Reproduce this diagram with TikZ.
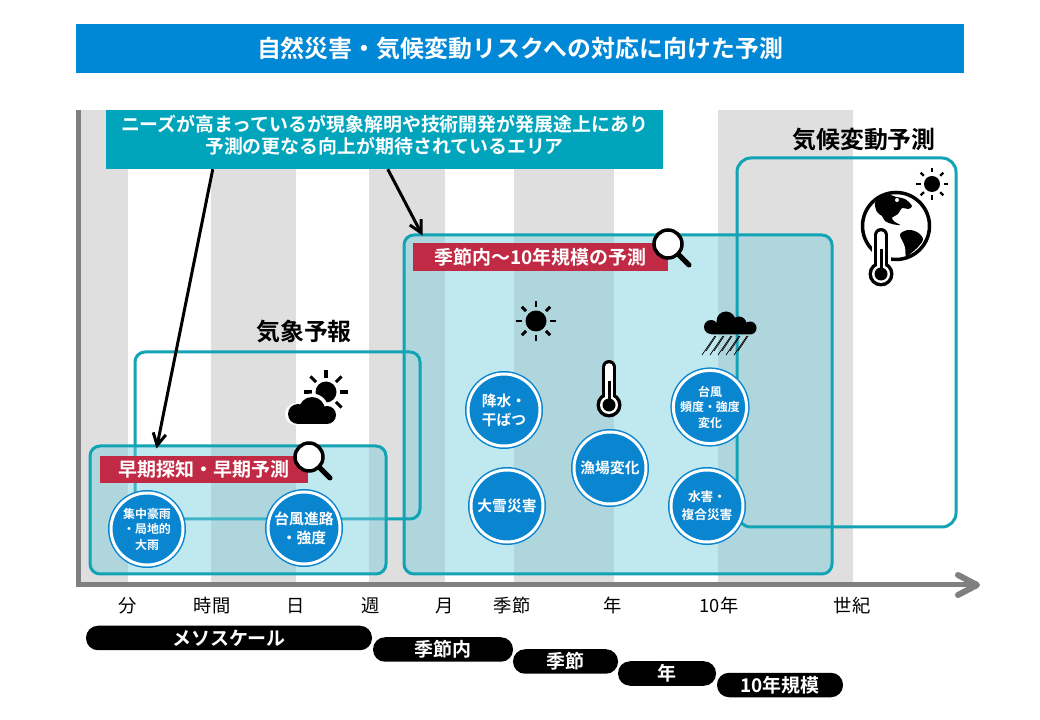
\documentclass[tikz,border=0pt]{standalone}
\usepackage{fontspec}
\setmainfont{Noto Sans CJK JP}[BoldFont={Noto Sans CJK JP Bold}]
\usetikzlibrary{arrows.meta}
\newcommand{\pu}{0.025cm}
\definecolor{barblue}{HTML}{0087D6}
\definecolor{roundblue}{HTML}{0A85D0}
\definecolor{tealline}{HTML}{12A3B4}
\definecolor{tealnote}{HTML}{00A5BC}
\definecolor{tealfill}{RGB}{117,204,220}
\definecolor{stripegray}{HTML}{DFDFDF}
\definecolor{axisgray}{HTML}{808080}
\definecolor{tagred}{HTML}{C12A44}
\tikzset{
	x=\pu, y=-\pu,
	stripe/.style={fill=stripegray},
	axisline/.style={draw=axisgray, line width=5*\pu},
	titlebar/.style={fill=barblue, text=white, font=\fontsize{17}{20}\selectfont\bfseries, inner sep=0pt},
	notebar/.style={fill=tealnote, inner sep=0pt},
	notetext/.style={text=white, align=center, font=\fontsize{13.45}{15.7}\selectfont\bfseries, inner sep=0pt},
	tealbox/.style={draw=tealline, line width=3*\pu, rounded corners=10*\pu, inner sep=0pt},
	tagbar/.style={fill=tagred, text=white, font=\fontsize{13.5}{16}\selectfont\bfseries, inner sep=0pt},
	heading/.style={font=\fontsize{17}{20}\selectfont\bfseries, inner sep=0pt},
	roundtag/.style={circle, fill=roundblue, draw=white, line width=3*\pu, minimum size=72*\pu, inner sep=0pt, text=white, align=center,
		preaction={draw=roundblue, line width=6*\pu}},
	bigtext/.style={font=\fontsize{10.5}{13.5}\selectfont\bfseries},
	smalltext/.style={font=\fontsize{8.5}{11}\selectfont\bfseries},
	ticklabel/.style={font=\fontsize{13}{15}\selectfont, inner sep=0pt},
	pill/.style={fill=black, text=white, rounded corners=12*\pu, font=\fontsize{13.5}{16}\selectfont\bfseries, inner sep=0pt, minimum height=24.5*\pu},
	pointer/.style={-{Straight Barb[length=3mm,width=3.2mm]}, line width=3*\pu},
}
\newcommand{\sunicon}[5]{% x, y, radius, ray start, ray end
	\fill (#1,#2) circle [radius=#3*\pu];
	\foreach \ang in {0,45,...,315}
		\draw[line width=#5/7*\pu, shift={(#1,#2)}] (\ang:#4*\pu) -- (\ang:#5*\pu);
}
\newcommand{\lensicon}[2]{
	\draw[line width=5*\pu, line cap=round, shift={(#1,#2)}] (10,10) -- (21,21);
	\draw[line width=3.5*\pu, fill=white] (#1,#2) circle [radius=14*\pu];
}
\newcommand{\thermoicon}[3]{% x, tube top, bulb y
	\draw[line width=14*\pu, line cap=round] (#1,#2+7) -- (#1,#3);
	\fill (#1,#3) circle [radius=12.5*\pu];
	\draw[white, line width=7.5*\pu, line cap=round] (#1,#2+7) -- (#1,#3);
	\fill[white] (#1,#3) circle [radius=9*\pu];
	\draw[line width=3*\pu] (#1,#2+21) -- (#1,#3);
	\fill (#1,#3) circle [radius=6.5*\pu];
}
\begin{document}
\begin{tikzpicture}
	\useasboundingbox (0,0) rectangle (1040,720);
	\fill[white] (0,0) rectangle (1040,720);
	% stripes
	\foreach \xa/\xb in {80/128,211/296,369/445,514/614,718/853}
		\fill[stripe] (\xa,110) rectangle (\xb,583);
	% axis
	\coordinate (axistop) at (78,110);
	\coordinate (axisorigin) at (78,585);
	\coordinate (axisend) at (977,585);
	\draw[axisline] (axistop) -- (axisorigin) -- (axisend);
	\draw[axisline, line width=6*\pu, line cap=round, line join=round] (958,575) -- (axisend) -- (958,595);
	% title and note
	\node[titlebar, minimum width=888*\pu, minimum height=49*\pu] (titlebar) at (520,48.5) {自然災害・気候変動リスクへの対応に向けた予測};
	\node[notebar, minimum width=557*\pu, minimum height=59*\pu] (notebar) at (384.5,139.5) {};
	\node[notetext] (note) at (384.5,135.5) {ニーズが高まっているが現象解明や技術開発が発展途上にあり\\予測の更なる向上が期待されているエリア};
	% boxes
	\node[tealbox, fill=tealfill, fill opacity=.45, minimum width=428*\pu, minimum height=339*\pu] (seasonbox) at (618,404.5) {};
	\node[tealbox, minimum width=285*\pu, minimum height=167*\pu] (weatherbox) at (277.5,435.5) {};
	\node[tealbox, fill=tealfill, fill opacity=.45, minimum width=296*\pu, minimum height=128*\pu] (earlybox) at (238,510) {};
	\node[tealbox, rounded corners=14*\pu, minimum width=219*\pu, minimum height=369*\pu] (climatebox) at (846.5,342.5) {};
	% pointers
	\draw[pointer] ([xshift=2.675cm]notebar.south west) -- ([xshift=1.7cm,yshift=-.1cm]earlybox.north west);
	\draw[pointer] ([xshift=7.05cm]notebar.south west) -- ([xshift=.5cm,yshift=-.05cm]seasonbox.north west);
	% headings
	\node[heading] (weatherhead) at (304,332) {気象予報};
	\node[heading] (climatehead) at (864,140) {気候変動予測};
	\node[tagbar, minimum width=208*\pu, minimum height=27*\pu] (earlytag) at (204,469.5) {早期探知・早期予測};
	\node[tagbar, minimum width=255*\pu, minimum height=28*\pu] (seasontag) at (540.5,257) {季節内～10年規模の予測};
	% round tags
	\node[roundtag, smalltext] (r1) at (147,529) {集中豪雨\\・局地的\\大雨};
	\node[roundtag, bigtext] (r2) at (304,528) {台風進路\\・強度};
	\node[roundtag, bigtext] (r3) at (504,410) {降水・\\干ばつ};
	\node[roundtag, bigtext] (r4) at (507,506) {大雪災害};
	\node[roundtag, bigtext] (r5) at (610,468) {漁場変化};
	\node[roundtag, smalltext] (r6) at (710,407) {台風\\頻度・強度\\変化};
	\node[roundtag, smalltext, font=\fontsize{9}{12.5}\selectfont\bfseries] (r7) at (707,506) {水害・\\複合災害};
	% icons
	\lensicon{309}{457}
	\lensicon{668}{244}
	\sunicon{326}{392}{10.5}{14}{22}
	\fill[white] (312,410) circle [radius=16.5*\pu] (296,414) circle [radius=11*\pu] (327,415) circle [radius=11*\pu];
	\fill (312,410) circle [radius=13*\pu] (298,414) circle [radius=10*\pu] (327,415) circle [radius=9*\pu] (298,414) rectangle (327,424);
	\sunicon{536}{321}{10.5}{14}{20}
	\sunicon{932}{184}{8}{11.5}{16}
	\thermoicon{609}{360}{405}
	% rain cloud
	\fill (726,321) circle [radius=9.5*\pu] (711,327) circle [radius=7*\pu] (739,324) circle [radius=7.5*\pu] (750,328) circle [radius=6.5*\pu] (711,327) rectangle (750,334.5);
	\foreach \xa in {702,710,718,726,734}
		\draw[line width=.7*\pu] (\xa+13,336) -- (\xa,355);
	\foreach \xa in {706,714,722,730,738}
		\draw[line width=.7*\pu] (\xa+10,336) -- (\xa,351);
	% earth
	\begin{scope}[shift={(896,226)}]
		\draw[line width=3.5*\pu, fill=white] (0,0) circle [radius=33.5*\pu];
		\fill plot[smooth cycle, tension=.6] coordinates {(-21,-23) (-16,-29) (-6,-31) (0,-29) (9,-27) (16,-20) (12,-17) (6,-18) (2,-12) (-4,-8) (-1,-4) (4,-1) (-4,-2) (-11,-5) (-14,-10) (-19,-14)};
		\fill plot[smooth cycle, tension=.6] coordinates {(4,8) (12,4) (21,6) (27,13) (22,21) (14,28) (10,31) (9,21) (6,14)};
		\fill[white] (1,-26) circle [radius=2*\pu];
	\end{scope}
	\draw[white, line width=19*\pu, line cap=round] (881,235) -- (881,274);
	\fill[white] (881,274) circle [radius=15*\pu];
	\thermoicon{881}{228}{274}
	% tick labels
	\foreach \xa/\lab in {128/分,212/時間,296/日,371/週,445/月,512/季節,613/年,719/10年,852/世紀}
		\node[ticklabel] (tick\xa) at (\xa,606) {\lab};
	% scale pills
	\node[pill, minimum width=286*\pu] (mesopill) at (229,638) {メソスケール};
	\node[pill, minimum width=140*\pu] (inpill) at (443,649.5) {季節内};
	\node[pill, minimum width=105*\pu] (seasonpill) at (565.5,661.5) {季節};
	\node[pill, minimum width=98*\pu] (yearpill) at (667,673.5) {年};
	\node[pill, minimum width=126*\pu] (decadepill) at (780,685) {10年規模};
\end{tikzpicture}
\end{document}
